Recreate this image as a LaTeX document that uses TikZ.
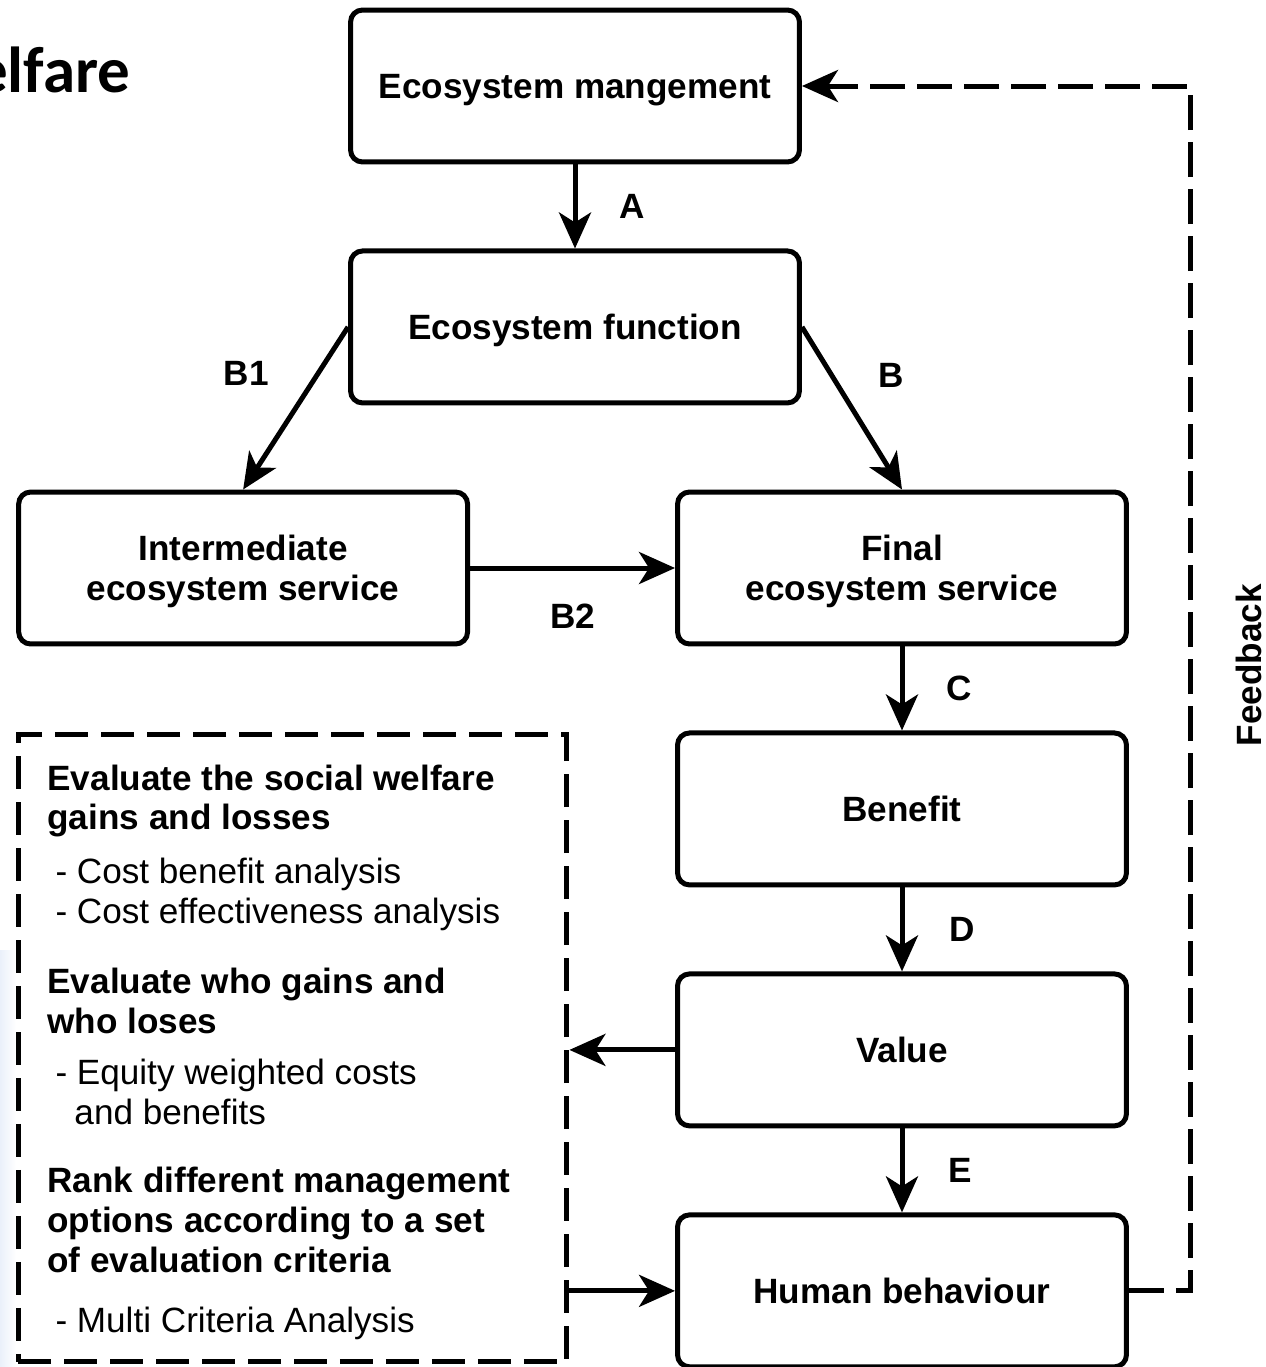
\documentclass[tikz,border=0pt]{standalone}
\usepackage{fontspec}
\setmainfont{Liberation Sans}
\newfontfamily\titlefont{Carlito}
\usetikzlibrary{arrows.meta}
\usetikzlibrary{positioning}
\usetikzlibrary{calc}
\definecolor{slideblue}{RGB}{234,240,250}

\begin{document}
\begin{tikzpicture}[x=0.02cm,y=-0.02cm,>={Stealth[length=0.72cm,width=0.64cm,inset=0.2cm]},node distance=1.68cm,line width=0.1cm]
 \tikzstyle{stage node}=[rectangle,draw=black,rounded corners=0.24cm,minimum width=8.98cm,minimum height=3.04cm,align=center,text depth=0pt,font=\bfseries\fontsize{20}{22.7}\selectfont]
 \tikzstyle{eval box}=[rectangle,draw=black,dash pattern=on 0.66cm off 0.26cm,minimum width=10.98cm,minimum height=12.56cm,inner sep=0]
 \tikzset{
 	label node/.style={inner sep=0,font=\bfseries\fontsize{20}{24}\selectfont},
 	eval head/.style={anchor=west,inner sep=0,align=left,font=\bfseries\fontsize{20}{22.7}\selectfont},
 	eval item/.style={anchor=west,inner sep=0,align=left,font=\fontsize{20}{22.7}\selectfont},
 	feedback line/.style={dash pattern=on 0.7cm off 0.24cm}
 }

  \useasboundingbox (0,0) rectangle (1266,1367);
  \shade[left color=slideblue,right color=white,draw=none] (0,950) rectangle (16,1367);

      \node[anchor=base east,inner sep=0,font=\titlefont\bfseries\fontsize{37}{40}\selectfont] (title) at (133,92) {elfare};

      \node[stage node] (mgmt) at (575,86) {Ecosystem mangement};
      \node[stage node] (func) [below=of mgmt] {Ecosystem function};
      \node[stage node] (final) at (902,568) {Final\\ecosystem service};
      \node[stage node] (inter) [left=4.1cm of final] {Intermediate\\ecosystem service};
      \node[stage node] (benefit) [below=of final] {Benefit};
      \node[stage node] (value) [below=of benefit] {Value};
      \node[stage node] (human) [below=of value] {Human behaviour};

      \node[eval box] (evalbox) at (292.5,1048) {};
      \node[eval head] (welfare) at (45,801) {Evaluate the social welfare\\gains and losses};
      \node[eval item] (cba) at (53,894) {- Cost benefit analysis\\- Cost effectiveness analysis};
      \node[eval head] (whogains) at (45,1001) {Evaluate who gains and\\who loses};
      \node[eval item] (equity) at (53,1092) {- Equity weighted costs\\\hspace*{0.38cm}and benefits};
      \node[eval head] (rank) at (45,1220) {Rank different management\\options according to a set\\of evaluation criteria};
      \node[eval item] (mca) at (53,1323) {- Multi Criteria Analysis};

      \coordinate (fb) at (1190,86);
      \node[label node,rotate=90] (fblabel) at (1249,665) {Feedback};

     \path[->]  (mgmt) edge node[label node,right=0.84cm] {A} (func);
     \path[->]  (func.west) edge node[label node,xshift=-0.99cm,yshift=0.7cm] {B1} (inter.north);
     \path[->]  (func.east) edge node[label node,xshift=0.78cm,yshift=0.66cm] {B} (final.north);
     \path[->]  (inter) edge node[label node,below=0.66cm] {B2} (final);
     \path[->]  (final) edge node[label node,right=0.84cm] {C} (benefit);
     \path[->]  (benefit) edge node[label node,right=0.9cm] {D} (value);
     \path[->]  (value) edge node[label node,right=0.88cm] {E} (human);

     \path[->]  (value.west) edge (value.west -| evalbox.east);
     \path[->]  (human.west -| evalbox.east) edge (human.west);

     \draw[feedback line,->]  (human.east) -| (fb) -- (mgmt.east);
 \end{tikzpicture}
\end{document}
